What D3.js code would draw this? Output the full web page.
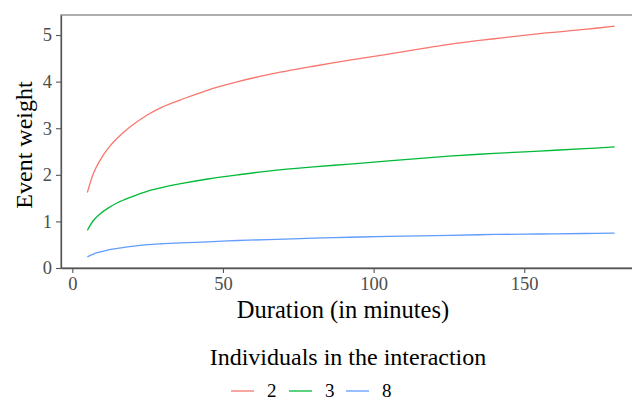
<!DOCTYPE html>
<html>
<head>
<meta charset="utf-8">
<script src="https://cdn.jsdelivr.net/npm/d3@7"></script>
<style>
  body { margin: 0; background: #fff; }
  text { font-family: "Liberation Serif", "Times New Roman", serif; }
</style>
</head>
<body>
<script>
// durations in minutes
const durations = [5, 7, 9, 12, 15, 19, 25, 30, 36, 45, 55, 65, 80, 92, 105, 125, 140, 155, 170, 180];

// event weight for each group size
const weight2 = [1.62, 2.03, 2.29, 2.58, 2.79, 3.02, 3.29, 3.46, 3.61, 3.82, 4.00, 4.15, 4.33, 4.46, 4.59, 4.80, 4.92, 5.03, 5.12, 5.19];
const weight3 = [0.81, 1.02, 1.15, 1.29, 1.40, 1.51, 1.65, 1.73, 1.81, 1.91, 2.00, 2.08, 2.17, 2.23, 2.30, 2.40, 2.46, 2.51, 2.56, 2.60];
const weight8 = [0.24, 0.30, 0.34, 0.39, 0.42, 0.46, 0.50, 0.52, 0.54, 0.56, 0.59, 0.61, 0.64, 0.66, 0.68, 0.70, 0.72, 0.73, 0.74, 0.75];

const groups = ["2", "3", "8"];
const groupColors = ["#F8766D", "#00BA38", "#619CFF"];
const xTicks = [0, 50, 100, 150];
const yTicks = [0, 1, 2, 3, 4, 5];

const width = 632;
const height = 400;
const panel = {left: 61, top: 15, right: 641, bottom: 268};

const svg = d3.select("body")
      .append("svg")
      .attr("width", width)
      .attr("height", height);

const xScale = d3.scaleLinear()
      .domain([-3.75, 188.75])
      .range([panel.left, panel.right]);

const yScale = d3.scaleLinear()
      .domain([0, 5.43])
      .range([panel.bottom, panel.top]);

// panel border
svg.append("rect")
      .attr("x", panel.left)
      .attr("y", panel.top)
      .attr("width", panel.right - panel.left)
      .attr("height", panel.bottom - panel.top)
      .attr("fill", "none")
      .attr("stroke", "#9a9a9a")
      .attr("stroke-width", 1.6);

const series = [weight2, weight3, weight8].map((vals, i) => ({
      name: groups[i],
      color: groupColors[i],
      values: durations.map((d, j) => ({duration: d, weight: vals[j]}))
}));

const line = d3.line()
      .x(d => xScale(d.duration))
      .y(d => yScale(d.weight))
      .curve(d3.curveCatmullRom.alpha(0.5));

svg.selectAll(".series")
      .data(series)
      .enter()
      .append("path")
      .attr("class", "series")
      .attr("fill", "none")
      .attr("stroke", d => d.color)
      .attr("stroke-width", 1.3)
      .attr("d", d => line(d.values));

// axes
const xAxis = svg.append("g")
      .attr("transform", `translate(0, ${panel.bottom})`)
      .call(d3.axisBottom(xScale).tickValues(xTicks).tickSize(5).tickSizeOuter(0).tickPadding(4));

const yAxis = svg.append("g")
      .attr("transform", `translate(${panel.left}, 0)`)
      .call(d3.axisLeft(yScale).tickValues(yTicks).tickFormat(d3.format("d"))
            .tickSize(5).tickSizeOuter(0).tickPadding(4));

[xAxis, yAxis].forEach(ax => {
      ax.select(".domain").attr("stroke", "#555").attr("stroke-width", 1.3);
      ax.selectAll(".tick line").attr("stroke", "#555").attr("stroke-width", 1.1);
      ax.selectAll(".tick text")
            .attr("fill", "#4d4d4d")
            .style("font-size", "18.5px")
            .style("font-family", "'Liberation Serif', serif");
});

// axis titles
svg.append("text")
      .attr("x", 343)
      .attr("y", 318)
      .attr("text-anchor", "middle")
      .style("font-size", "24.5px")
      .text("Duration (in minutes)");

svg.append("text")
      .attr("transform", `translate(32, 145) rotate(-90)`)
      .attr("text-anchor", "middle")
      .style("font-size", "24px")
      .text("Event weight");

// legend
svg.append("text")
      .attr("x", 348)
      .attr("y", 365)
      .attr("text-anchor", "middle")
      .style("font-size", "24px")
      .text("Individuals in the interaction");

const legendX = [231, 289, 346];
const legend = svg.selectAll(".key")
      .data(series)
      .enter()
      .append("g")
      .attr("class", "key")
      .attr("transform", (d, i) => `translate(${legendX[i]}, 391)`);

legend.append("line")
      .attr("x1", 0)
      .attr("x2", 23)
      .attr("stroke", d => d.color)
      .attr("stroke-width", 1.3);

legend.append("text")
      .attr("x", 36)
      .attr("y", 6)
      .style("font-size", "19px")
      .text(d => d.name);
</script>
</body>
</html>
